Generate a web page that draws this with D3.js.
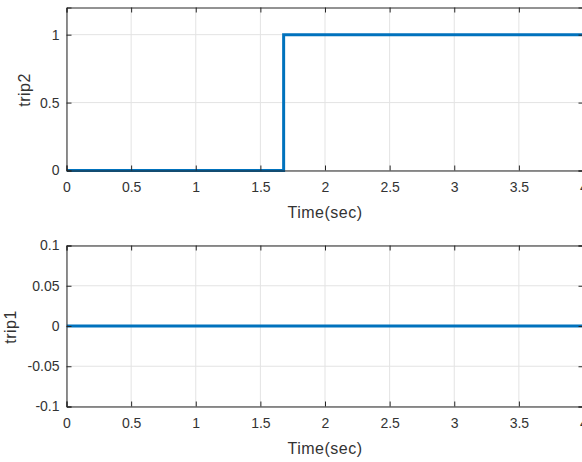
<!DOCTYPE html>
<html><head><meta charset="utf-8">
<script src="https://cdn.jsdelivr.net/npm/d3@7"></script>
<style>
html,body{margin:0;padding:0;background:#fff;overflow:hidden;}
svg{display:block;font-family:"Liberation Sans",Arial,Helvetica,sans-serif;}
</style></head>
<body>
<script>
const time = [0, 1.68, 1.68, 4.2];
const trip2 = [0, 0, 1, 1];
const trip1 = [0, 0, 0, 0];
const xTicks = [0, 0.5, 1, 1.5, 2, 2.5, 3, 3.5, 4];
const trip2Ticks = [0, 0.5, 1];
const trip1Ticks = [-0.1, -0.05, 0, 0.05, 0.1];

const W = 582, H = 462;
const svg = d3.select("body").append("svg").attr("width", W).attr("height", H);
const axisColor = "#262626", gridColor = "#e3e3e3", lineColor = "#0072BD";
const fmt = d => d3.format("~g")(d).replace("\u2212", "-");

const x = d3.scaleLinear().domain([0, 4]).range([66.5, 583.5]);

function panel(top, bottom, yDomain, yTicks, values, label, labelX) {
  const y = d3.scaleLinear().domain(yDomain).range([bottom, top]);
  const g = svg.append("g");
  const clipId = "clip" + label;
  svg.append("clipPath").attr("id", clipId).append("rect")
    .attr("x", x.range()[0]).attr("y", top - 3).attr("width", x.range()[1] - x.range()[0] + 2).attr("height", bottom - top + 6);
  // grid
  g.selectAll(".gx").data(xTicks).enter().append("line")
    .attr("x1", d => x(d)).attr("x2", d => x(d)).attr("y1", top).attr("y2", bottom)
    .attr("stroke", gridColor).attr("stroke-width", 1);
  g.selectAll(".gy").data(yTicks).enter().append("line")
    .attr("x1", x.range()[0]).attr("x2", x.range()[1]).attr("y1", d => y(d)).attr("y2", d => y(d))
    .attr("stroke", gridColor).attr("stroke-width", 1);
  // data line
  const line = d3.line().x((d, i) => x(time[i])).y(d => y(d));
  g.append("path").datum(values).attr("d", line)
    .attr("fill", "none").attr("stroke", lineColor).attr("stroke-width", 3)
    .attr("clip-path", `url(#${clipId})`);
  // axes
  const xa = d3.axisBottom(x).tickValues(xTicks).tickSize(-5).tickPadding(12).tickFormat(fmt);
  const xg = g.append("g").attr("transform", `translate(0,${bottom})`).call(xa);
  const xt = d3.axisTop(x).tickValues(xTicks).tickSize(-5).tickFormat("");
  const xtg = g.append("g").attr("transform", `translate(0,${top})`).call(xt);
  const ya = d3.axisLeft(y).tickValues(yTicks).tickSize(-5).tickPadding(7).tickFormat(fmt);
  const yg = g.append("g").attr("transform", `translate(${x.range()[0]},0)`).call(ya);
  const yr = d3.axisRight(y).tickValues(yTicks).tickSize(-5).tickFormat("");
  const yrg = g.append("g").attr("transform", `translate(${x.range()[1]},0)`).call(yr);
  [xg, xtg, yg, yrg].forEach(a => {
    a.select(".domain").attr("stroke", axisColor).attr("stroke-width", 1);
    a.selectAll(".tick line").attr("stroke", axisColor);
    a.selectAll("text").attr("fill", "#333").style("font-size", "14px")
      .style("font-family", '"Liberation Sans",Arial,sans-serif');
  });
  g.append("text").attr("x", x(2)).attr("y", bottom + 47).attr("text-anchor", "middle")
    .attr("fill", "#333").style("font-size", "16px").style("letter-spacing", "0.5px").text("Time(sec)");
  g.append("text").attr("transform", `translate(${labelX},${(top + bottom) / 2 + 1}) rotate(-90)`)
    .attr("text-anchor", "middle").attr("fill", "#333").style("font-size", "16px")
    .style("letter-spacing", "0.5px").text(label);
}

panel(7.5, 170.5, [0, 1.2], trip2Ticks, trip2, "trip2", 30);
panel(245.5, 406.5, [-0.1, 0.1], trip1Ticks, trip1, "trip1", 16);
</script>
</body></html>
